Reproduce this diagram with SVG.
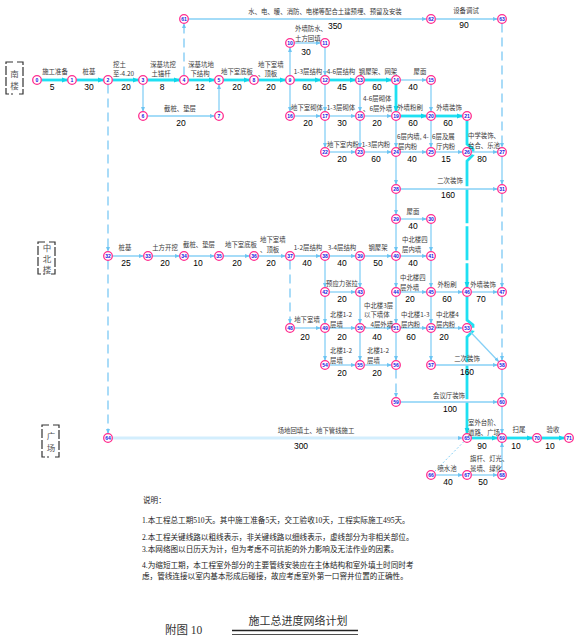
<svg xmlns="http://www.w3.org/2000/svg" width="576" height="637" viewBox="0 0 576 637">
<defs>
<style>
.t{fill:none;stroke:#86d0f6;stroke-width:1.3;marker-end:url(#a)}
.m{fill:none;stroke:#a6dcf8;stroke-width:2;marker-end:url(#a)}
.w{fill:none;stroke:#d3eefd;stroke-width:3;marker-end:url(#a)}
.k{fill:none;stroke:#1fe0f2;stroke-width:2.8;marker-end:url(#ak)}
.kd{fill:none;stroke:#1fe0f2;stroke-width:2.8;stroke-dasharray:34 3;marker-end:url(#ak)}
.d{fill:none;stroke:#7cc9f4;stroke-width:1.3;stroke-dasharray:9 5;marker-end:url(#a)}
.o{fill:none;stroke:#86d0f6;stroke-width:1;stroke-dasharray:2 2}
.n circle{fill:#fff;stroke:#ff2d8f;stroke-width:1.3}
.n text{font-family:"Liberation Sans",sans-serif;font-weight:bold;font-size:5px;fill:#1414e0;text-anchor:middle}
.l{font-family:"Noto Sans CJK SC",sans-serif;font-size:6.4px;fill:#3a3a3a;text-anchor:middle}
.s{text-anchor:start}
.v{font-family:"Liberation Sans",sans-serif;font-size:8.5px;fill:#000;text-anchor:middle}
.b{fill:none;stroke:#333;stroke-width:1.2;stroke-dasharray:9 2}
.bt{font-family:"Noto Sans CJK SC",sans-serif;font-size:8.5px;fill:#555;text-anchor:middle}
.nt{font-family:"Liberation Serif","Noto Sans CJK SC",serif;font-size:7.6px;fill:#222}
</style>
<marker id="a" viewBox="0 0 6 6" refX="5.5" refY="3" markerWidth="5" markerHeight="5" orient="auto" markerUnits="userSpaceOnUse"><path d="M0,0.6 L6,3 L0,5.4z" fill="#6cc4f2"/></marker>
<marker id="ak" viewBox="0 0 6 6" refX="5.5" refY="3" markerWidth="6" markerHeight="6" orient="auto" markerUnits="userSpaceOnUse"><path d="M0,0.6 L6,3 L0,5.4z" fill="#10d4ea"/></marker>
</defs>
<rect width="576" height="637" fill="#fff"/>

<g id="connectors">
<path class="k" d="M41.5,80 H67.5"/>
<path class="k" d="M76.5,80 H103.5"/>
<path class="k" d="M112.5,80 H138.5"/>
<path class="k" d="M147.5,80 H179.5"/>
<path class="k" d="M188.5,80 H214.5"/>
<path class="k" d="M223.5,80 H249.5"/>
<path class="k" d="M258.5,80 H285.5"/>
<path class="k" d="M294.5,80 H320.5"/>
<path class="k" d="M329.5,80 H355.5"/>
<path class="k" d="M364.5,80 H391.5"/>
<path class="k" d="M396,84.5 V111.5"/>
<path class="k" d="M400.5,116 H426.5"/>
<path class="k" d="M435.5,116 H462.5"/>
<path class="kd" d="M467,120.5 V144 L473,149 V155 L467,161 V287.5"/>
<path class="kd" d="M467,296.5 V320 L473,325 V331 L467,337 V433.5"/>
<path class="k" d="M471.5,438 H497.5"/>
<path class="k" d="M506.5,438 H532.5"/>
<path class="k" d="M541.5,438 H564.5"/>
<path class="t" d="M143,84.5 V111.5"/>
<path class="t" d="M147.5,116 H214.5"/>
<path class="t" d="M219,111.5 V84.5"/>
<path class="t" d="M290,75.5 V47.5"/>
<path class="t" d="M294.5,43 H320.5"/>
<path class="t" d="M325,47.5 V75.5"/>
<path class="t" d="M400.5,80 H426.5"/>
<path class="t" d="M431,84.5 V111.5"/>
<path class="t" d="M290,84.5 V111.5"/>
<path class="t" d="M325,84.5 V111.5"/>
<path class="t" d="M360,84.5 V111.5"/>
<path class="t" d="M294.5,116 H320.5"/>
<path class="t" d="M329.5,116 H355.5"/>
<path class="t" d="M364.5,116 H391.5"/>
<path class="t" d="M325,120.5 V147.5"/>
<path class="t" d="M360,120.5 V147.5"/>
<path class="t" d="M396,120.5 V147.5"/>
<path class="t" d="M431,120.5 V147.5"/>
<path class="t" d="M329.5,152 H355.5"/>
<path class="t" d="M364.5,152 H391.5"/>
<path class="t" d="M400.5,152 H426.5"/>
<path class="t" d="M435.5,152 H462.5"/>
<path class="t" d="M471.5,152 H497.5"/>
<path class="t" d="M502,156.5 V184.5"/>
<path class="t" d="M396,156.5 V184.5"/>
<path class="t" d="M400.5,189 H497.5"/>
<path class="t" d="M396,193.5 V214.5"/>
<path class="t" d="M400.5,219 H426.5"/>
<path class="t" d="M396,223.5 V251.5"/>
<path class="t" d="M431,223.5 V251.5"/>
<path class="m" d="M112.5,256 H143.5"/>
<path class="m" d="M152.5,256 H179.5"/>
<path class="m" d="M188.5,256 H214.5"/>
<path class="m" d="M223.5,256 H249.5"/>
<path class="m" d="M258.5,256 H285.5"/>
<path class="m" d="M294.5,256 H320.5"/>
<path class="m" d="M329.5,256 H355.5"/>
<path class="m" d="M364.5,256 H391.5"/>
<path class="m" d="M400.5,256 H426.5"/>
<path class="t" d="M325,260.5 V287.5"/>
<path class="t" d="M360,260.5 V287.5"/>
<path class="t" d="M329.5,292 H355.5"/>
<path class="t" d="M396,260.5 V287.5"/>
<path class="t" d="M431,260.5 V287.5"/>
<path class="t" d="M400.5,292 H426.5"/>
<path class="t" d="M435.5,292 H462.5"/>
<path class="t" d="M471.5,292 H497.5"/>
<path class="t" d="M325,296.5 V323.5"/>
<path class="t" d="M360,296.5 V323.5"/>
<path class="t" d="M396,296.5 V323.5"/>
<path class="t" d="M431,296.5 V323.5"/>
<path class="t" d="M294.5,328 H320.5"/>
<path class="t" d="M329.5,328 H355.5"/>
<path class="t" d="M364.5,328 H391.5"/>
<path class="t" d="M400.5,328 H426.5"/>
<path class="t" d="M435.5,328 H462.5"/>
<path class="t" d="M325,332.5 V360.5"/>
<path class="t" d="M360,332.5 V360.5"/>
<path class="t" d="M396,332.5 V360.5"/>
<path class="t" d="M431,332.5 V360.5"/>
<path class="t" d="M329.5,365 H355.5"/>
<path class="t" d="M364.5,365 H391.5"/>
<path class="t" d="M435.5,365 H497.5"/>
<path class="t" d="M470,331.5 L498.8,361.8"/>
<path class="t" d="M502,369.5 V397.5"/>
<path class="t" d="M400.5,402 H497.5"/>
<path class="t" d="M502,406.5 V433.5"/>
<path class="w" d="M112.5,438 H462.5"/>
<path class="t" d="M435.5,475 H462.5"/>
<path class="t" d="M471.5,475 H497.5"/>
<path class="t" d="M502,470.5 V442.5"/>
<path class="t" d="M188.5,19 H426.5"/>
<path class="t" d="M435.5,19 H497.5"/>
<path class="d" d="M108,84.5 V251.5"/>
<path class="d" d="M108,260.5 V433.5"/>
<path class="d" d="M184,75.5 V23.5"/>
<path class="d" d="M502,23.5 V147.5"/>
<path class="d" d="M502,193.5 V287.5"/>
<path class="d" d="M502,296.5 V360.5"/>
<path class="d" d="M290,260.5 V323.5"/>
<path class="d" d="M396,369.5 V397.5"/>
<path class="o" d="M464,441.5 L434.5,471.5"/>
</g>

<g id="nodes">
<g id="n0" class="n"><circle cx="37" cy="80" r="4.3"/><text x="37" y="81.8">0</text></g>
<g id="n1" class="n"><circle cx="72" cy="80" r="4.3"/><text x="72" y="81.8">1</text></g>
<g id="n2" class="n"><circle cx="108" cy="80" r="4.3"/><text x="108" y="81.8">2</text></g>
<g id="n3" class="n"><circle cx="143" cy="80" r="4.3"/><text x="143" y="81.8">3</text></g>
<g id="n4" class="n"><circle cx="184" cy="80" r="4.3"/><text x="184" y="81.8">4</text></g>
<g id="n5" class="n"><circle cx="219" cy="80" r="4.3"/><text x="219" y="81.8">5</text></g>
<g id="n6" class="n"><circle cx="143" cy="116" r="4.3"/><text x="143" y="117.8">6</text></g>
<g id="n7" class="n"><circle cx="219" cy="116" r="4.3"/><text x="219" y="117.8">7</text></g>
<g id="n8" class="n"><circle cx="254" cy="80" r="4.3"/><text x="254" y="81.8">8</text></g>
<g id="n9" class="n"><circle cx="290" cy="80" r="4.3"/><text x="290" y="81.8">9</text></g>
<g id="n10" class="n"><circle cx="290" cy="43" r="4.3"/><text x="290" y="44.8">10</text></g>
<g id="n11" class="n"><circle cx="325" cy="43" r="4.3"/><text x="325" y="44.8">11</text></g>
<g id="n12" class="n"><circle cx="325" cy="80" r="4.3"/><text x="325" y="81.8">12</text></g>
<g id="n13" class="n"><circle cx="360" cy="80" r="4.3"/><text x="360" y="81.8">13</text></g>
<g id="n14" class="n"><circle cx="396" cy="80" r="4.3"/><text x="396" y="81.8">14</text></g>
<g id="n15" class="n"><circle cx="431" cy="80" r="4.3"/><text x="431" y="81.8">15</text></g>
<g id="n16" class="n"><circle cx="290" cy="116" r="4.3"/><text x="290" y="117.8">16</text></g>
<g id="n17" class="n"><circle cx="325" cy="116" r="4.3"/><text x="325" y="117.8">17</text></g>
<g id="n18" class="n"><circle cx="360" cy="116" r="4.3"/><text x="360" y="117.8">18</text></g>
<g id="n19" class="n"><circle cx="396" cy="116" r="4.3"/><text x="396" y="117.8">19</text></g>
<g id="n20" class="n"><circle cx="431" cy="116" r="4.3"/><text x="431" y="117.8">20</text></g>
<g id="n21" class="n"><circle cx="467" cy="116" r="4.3"/><text x="467" y="117.8">21</text></g>
<g id="n22" class="n"><circle cx="325" cy="152" r="4.3"/><text x="325" y="153.8">22</text></g>
<g id="n23" class="n"><circle cx="360" cy="152" r="4.3"/><text x="360" y="153.8">23</text></g>
<g id="n24" class="n"><circle cx="396" cy="152" r="4.3"/><text x="396" y="153.8">24</text></g>
<g id="n25" class="n"><circle cx="431" cy="152" r="4.3"/><text x="431" y="153.8">25</text></g>
<g id="n26" class="n"><circle cx="467" cy="152" r="4.3"/><text x="467" y="153.8">26</text></g>
<g id="n27" class="n"><circle cx="502" cy="152" r="4.3"/><text x="502" y="153.8">27</text></g>
<g id="n28" class="n"><circle cx="396" cy="189" r="4.3"/><text x="396" y="190.8">28</text></g>
<g id="n29" class="n"><circle cx="396" cy="219" r="4.3"/><text x="396" y="220.8">29</text></g>
<g id="n30" class="n"><circle cx="431" cy="219" r="4.3"/><text x="431" y="220.8">30</text></g>
<g id="n31" class="n"><circle cx="502" cy="189" r="4.3"/><text x="502" y="190.8">31</text></g>
<g id="n32" class="n"><circle cx="108" cy="256" r="4.3"/><text x="108" y="257.8">32</text></g>
<g id="n33" class="n"><circle cx="148" cy="256" r="4.3"/><text x="148" y="257.8">33</text></g>
<g id="n34" class="n"><circle cx="184" cy="256" r="4.3"/><text x="184" y="257.8">34</text></g>
<g id="n35" class="n"><circle cx="219" cy="256" r="4.3"/><text x="219" y="257.8">35</text></g>
<g id="n36" class="n"><circle cx="254" cy="256" r="4.3"/><text x="254" y="257.8">36</text></g>
<g id="n37" class="n"><circle cx="290" cy="256" r="4.3"/><text x="290" y="257.8">37</text></g>
<g id="n38" class="n"><circle cx="325" cy="256" r="4.3"/><text x="325" y="257.8">38</text></g>
<g id="n39" class="n"><circle cx="360" cy="256" r="4.3"/><text x="360" y="257.8">39</text></g>
<g id="n40" class="n"><circle cx="396" cy="256" r="4.3"/><text x="396" y="257.8">40</text></g>
<g id="n41" class="n"><circle cx="431" cy="256" r="4.3"/><text x="431" y="257.8">41</text></g>
<g id="n42" class="n"><circle cx="325" cy="292" r="4.3"/><text x="325" y="293.8">42</text></g>
<g id="n43" class="n"><circle cx="360" cy="292" r="4.3"/><text x="360" y="293.8">43</text></g>
<g id="n44" class="n"><circle cx="396" cy="292" r="4.3"/><text x="396" y="293.8">44</text></g>
<g id="n45" class="n"><circle cx="431" cy="292" r="4.3"/><text x="431" y="293.8">45</text></g>
<g id="n46" class="n"><circle cx="467" cy="292" r="4.3"/><text x="467" y="293.8">46</text></g>
<g id="n47" class="n"><circle cx="502" cy="292" r="4.3"/><text x="502" y="293.8">47</text></g>
<g id="n48" class="n"><circle cx="290" cy="328" r="4.3"/><text x="290" y="329.8">48</text></g>
<g id="n49" class="n"><circle cx="325" cy="328" r="4.3"/><text x="325" y="329.8">49</text></g>
<g id="n50" class="n"><circle cx="360" cy="328" r="4.3"/><text x="360" y="329.8">50</text></g>
<g id="n51" class="n"><circle cx="396" cy="328" r="4.3"/><text x="396" y="329.8">51</text></g>
<g id="n52" class="n"><circle cx="431" cy="328" r="4.3"/><text x="431" y="329.8">52</text></g>
<g id="n53" class="n"><circle cx="467" cy="328" r="4.3"/><text x="467" y="329.8">53</text></g>
<g id="n54" class="n"><circle cx="325" cy="365" r="4.3"/><text x="325" y="366.8">54</text></g>
<g id="n55" class="n"><circle cx="360" cy="365" r="4.3"/><text x="360" y="366.8">55</text></g>
<g id="n56" class="n"><circle cx="396" cy="365" r="4.3"/><text x="396" y="366.8">56</text></g>
<g id="n57" class="n"><circle cx="431" cy="365" r="4.3"/><text x="431" y="366.8">57</text></g>
<g id="n58" class="n"><circle cx="502" cy="365" r="4.3"/><text x="502" y="366.8">58</text></g>
<g id="n59" class="n"><circle cx="396" cy="402" r="4.3"/><text x="396" y="403.8">59</text></g>
<g id="n60" class="n"><circle cx="502" cy="402" r="4.3"/><text x="502" y="403.8">60</text></g>
<g id="n61" class="n"><circle cx="184" cy="19" r="4.3"/><text x="184" y="20.8">61</text></g>
<g id="n62" class="n"><circle cx="431" cy="19" r="4.3"/><text x="431" y="20.8">62</text></g>
<g id="n63" class="n"><circle cx="502" cy="19" r="4.3"/><text x="502" y="20.8">63</text></g>
<g id="n64" class="n"><circle cx="108" cy="438" r="4.3"/><text x="108" y="439.8">64</text></g>
<g id="n65" class="n"><circle cx="467" cy="438" r="4.3"/><text x="467" y="439.8">65</text></g>
<g id="n66" class="n"><circle cx="431" cy="475" r="4.3"/><text x="431" y="476.8">66</text></g>
<g id="n67" class="n"><circle cx="467" cy="475" r="4.3"/><text x="467" y="476.8">67</text></g>
<g id="n68" class="n"><circle cx="502" cy="475" r="4.3"/><text x="502" y="476.8">68</text></g>
<g id="n69" class="n"><circle cx="502" cy="438" r="4.3"/><text x="502" y="439.8">69</text></g>
<g id="n70" class="n"><circle cx="537" cy="438" r="4.3"/><text x="537" y="439.8">70</text></g>
<g id="n71" class="n"><circle cx="569" cy="438" r="4.3"/><text x="569" y="439.8">71</text></g>
</g>

<g id="labels">
<text class="l" x="325" y="13.5">水、电、暖、消防、电梯等配合土建预埋、预留及安装</text>
<text class="v" x="335" y="29">350</text>
<text class="l" x="466" y="12.5">设备调试</text>
<text class="v" x="464" y="28">90</text>
<text class="l s" x="295" y="31">外墙防水、</text>
<text class="l s" x="295" y="40.5">土方回填</text>
<text class="v" x="306" y="55">30</text>
<text class="l" x="55" y="73.5">施工准备</text><text class="v" x="52" y="90">5</text>
<text class="l" x="89" y="73.5">桩基</text><text class="v" x="89" y="90">30</text>
<text class="l s" x="113" y="66.5">挖土</text><text class="l s" x="113" y="76">至-4.20</text><text class="v" x="126" y="90">20</text>
<text class="l" x="163" y="66.5">深基坑挖</text><text class="l" x="161" y="76">土锚杆</text><text class="v" x="162" y="90">8</text>
<text class="l" x="201" y="66.5">深基坑地</text><text class="l" x="200" y="76">下结构</text><text class="v" x="200" y="90">12</text>
<text class="l" x="237" y="73.5">地下室底板</text><text class="v" x="237" y="90">20</text>
<text class="l s" x="258" y="66.5">地下室墙</text><text class="l s" x="258" y="76">、顶板</text><text class="v" x="271" y="90">20</text>
<text class="l" x="308" y="73.5">1-3层结构</text><text class="v" x="307" y="90">60</text>
<text class="l" x="341" y="73.5">4-6层结构</text><text class="v" x="342" y="90">45</text>
<text class="l" x="378" y="73.5">钢屋架、网架</text><text class="v" x="377" y="90">60</text>
<text class="l" x="420" y="73.5">屋面</text><text class="v" x="413" y="90">40</text>
<text class="l" x="180" y="110.5">截桩、垫层</text><text class="v" x="181" y="126">20</text>
<text class="l" x="307" y="109.5">地下室砌体</text><text class="v" x="308" y="126">20</text>
<text class="l" x="341" y="109.5">1-3层砌体</text><text class="v" x="342" y="126">30</text>
<text class="l s" x="363" y="101">4-6层砌体</text><text class="l s" x="363" y="110.5">、6层外墙</text><text class="v" x="377" y="126">20</text>
<text class="l" x="410" y="109.5">外墙粉刷</text><text class="v" x="413" y="126">60</text>
<text class="l" x="449" y="109.5">外墙装饰</text><text class="v" x="448" y="126">60</text>
<text class="l" x="343" y="146.5">地下室内粉</text><text class="v" x="342" y="162">20</text>
<text class="l" x="376" y="146.5">1-3层内粉</text><text class="v" x="376" y="162">60</text>
<text class="l s" x="397" y="139">6层内墙, 4-</text><text class="l s" x="398" y="148.5">层内粉</text><text class="v" x="412" y="162">40</text>
<text class="l s" x="432" y="139">6层及展</text><text class="l s" x="436" y="148.5">厅内粉</text><text class="v" x="446" y="162">15</text>
<text class="l s" x="468" y="138">中学装饰、</text><text class="l s" x="468" y="147.5">台合、乐池</text><text class="v" x="482" y="162">80</text>
<text class="l" x="450" y="182.5">二次装饰</text><text class="v" x="448" y="198">160</text>
<text class="l" x="413" y="213.5">屋面</text><text class="v" x="413" y="229">40</text>
<text class="l" x="125" y="249.5">桩基</text><text class="v" x="126" y="266">25</text>
<text class="l" x="165" y="249.5">土方开挖</text><text class="v" x="165" y="266">20</text>
<text class="l" x="199" y="246.5">截桩、垫层</text><text class="v" x="198" y="266">10</text>
<text class="l" x="241" y="246.5">地下室底板</text><text class="v" x="237" y="266">20</text>
<text class="l s" x="260" y="242">地下室墙</text><text class="l s" x="260" y="251.5">、顶板</text><text class="v" x="271" y="266">20</text>
<text class="l" x="308" y="249.5">1-2层结构</text><text class="v" x="307" y="266">40</text>
<text class="l" x="342" y="249.5">3-4层结构</text><text class="v" x="342" y="266">40</text>
<text class="l" x="378" y="249.5">钢屋架</text><text class="v" x="378" y="266">50</text>
<text class="l s" x="402" y="242">中北楼四</text><text class="l s" x="402" y="251.5">层内墙</text><text class="v" x="413" y="266">40</text>
<text class="l" x="342" y="285.5">预应力张拉</text><text class="v" x="342" y="302">20</text>
<text class="l s" x="400" y="280">中北楼四</text><text class="l s" x="400" y="289.5">层外墙</text><text class="v" x="410" y="302">20</text>
<text class="l" x="447" y="286.5">外粉刷</text><text class="v" x="447" y="302">60</text>
<text class="l" x="483" y="286.5">外墙装饰</text><text class="v" x="481" y="302">70</text>
<text class="l" x="307" y="321.5">地下室墙</text><text class="v" x="305" y="340">20</text>
<text class="l s" x="330" y="317">北楼1-2</text><text class="l s" x="330" y="326.5">层墙</text><text class="v" x="342" y="340">20</text>
<text class="l s" x="364" y="307.5">中北楼3层</text><text class="l s" x="364" y="317">以下墙体</text><text class="l s" x="364" y="326.5">、4层外墙</text><text class="v" x="377" y="340">40</text>
<text class="l s" x="401" y="317">中北楼1-3</text><text class="l s" x="401" y="326.5">层内粉</text><text class="v" x="411" y="340">60</text>
<text class="l s" x="436" y="317">中北楼4</text><text class="l s" x="436" y="326.5">层内粉</text><text class="v" x="444" y="340">20</text>
<text class="l s" x="330" y="353">北楼1-2</text><text class="l s" x="330" y="362.5">层墙</text><text class="v" x="342" y="376">20</text>
<text class="l s" x="367" y="353">北楼1-2</text><text class="l s" x="367" y="362.5">层墙</text><text class="v" x="377" y="376">20</text>
<text class="l" x="467" y="360.5">二次装饰</text><text class="v" x="467" y="375">160</text>
<text class="l" x="449" y="397.5">会议厅装饰</text><text class="v" x="450" y="412">100</text>
<text class="l" x="316" y="433">场地回填土、地下管线施工</text><text class="v" x="301" y="449">300</text>
<text class="l s" x="468" y="425">室外台阶、</text><text class="l s" x="468" y="434.5">道路、广场</text><text class="v" x="482" y="449">90</text>
<text class="l" x="519" y="431.5">扫尾</text><text class="v" x="516" y="449">10</text>
<text class="l" x="553" y="431.5">验收</text><text class="v" x="550" y="449">10</text>
<text class="l" x="447" y="471">喷水池</text><text class="v" x="448" y="485">40</text>
<text class="l s" x="470" y="461">旗杆、灯光、</text><text class="l s" x="470" y="470.5">景墙、绿化</text><text class="v" x="483" y="485">50</text>
</g>

<g id="buildings">
<path class="b" d="M13,62 H6 V94 H13 M17,62 H23 V94 H17"/>
<text class="bt" x="14.5" y="76.5">南</text><text class="bt" x="14.5" y="88.5">楼</text>
<path class="b" d="M45,242 H38 V274 H45 M49,242 H55 V274 H49"/>
<text class="bt" x="47" y="251">中</text><text class="bt" x="47" y="262">北</text><text class="bt" x="47" y="273">楼</text>
<path class="b" d="M49,425 H42 V457 H49 M53,425 H59 V457 H53"/>
<text class="bt" x="51" y="438.5">广</text><text class="bt" x="51" y="450.5">场</text>
</g>

<g id="notes">
<text class="nt" x="143" y="502.5">说明：</text>
<text class="nt" x="142" y="522.7">1.本工程总工期510天。其中施工准备5天，交工验收10天，工程实际施工495天。</text>
<text class="nt" x="142" y="540.4">2.本工程关键线路以粗线表示，非关键线路以细线表示，虚线部分为非相关部位。</text>
<text class="nt" x="142" y="552">3.本网络图以日历天为计，但为考虑不可抗拒的外力影响及无法作业的因素。</text>
<text class="nt" x="142" y="568.4">4.为缩短工期，本工程室外部分的主要管线安装应在主体结构和室外填土时同时考</text>
<text class="nt" x="142" y="578.5">虑，管线连接以室内基本形成后碰接，故应考虑室外第一口窨井位置的正确性。</text>
<text x="165" y="634" font-family="Liberation Serif,Noto Sans CJK SC,serif" font-size="11.5" fill="#333">附图 10</text>
<text x="298" y="625" font-family="Noto Sans CJK SC,sans-serif" font-size="11" fill="#333" text-anchor="middle">施工总进度网络计划</text>
<line x1="232" y1="630.5" x2="358" y2="630.5" stroke="#222" stroke-width="1.6"/>
<line x1="232" y1="634.5" x2="358" y2="634.5" stroke="#222" stroke-width="0.8"/>
</g>
</svg>
